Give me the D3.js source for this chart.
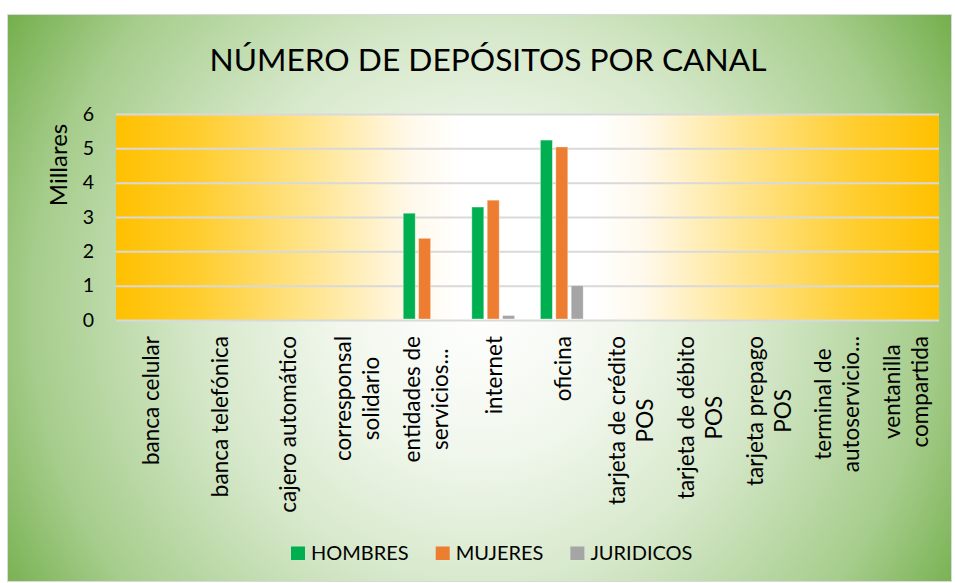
<!DOCTYPE html>
<html>
<head>
<meta charset="utf-8">
<script src="https://cdn.jsdelivr.net/npm/d3@7"></script>
<style>
    body { margin: 0; background: #ffffff; }
    svg text { font-family: Lato, "Noto Sans", sans-serif; fill: #000000; }
</style>
</head>
<body>
<div id="chart"></div>
<script>
// Chart data
const categories = [
    ['banca celular'],
    ['banca telefónica'],
    ['cajero automático'],
    ['corresponsal', 'solidario'],
    ['entidades de', 'servicios...'],
    ['internet'],
    ['oficina'],
    ['tarjeta de crédito', 'POS'],
    ['tarjeta de débito', 'POS'],
    ['tarjeta prepago', 'POS'],
    ['terminal de', 'autoservicio...'],
    ['ventanilla', 'compartida']
];
const seriesNames = ['HOMBRES', 'MUJERES', 'JURIDICOS'];
const hombres   = [0, 0, 0, 0, 3.11, 3.29, 5.24, 0, 0, 0, 0, 0];
const mujeres   = [0, 0, 0, 0, 2.38, 3.49, 5.04, 0, 0, 0, 0, 0];
const juridicos = [0, 0, 0, 0, 0,    0.13, 1.00, 0, 0, 0, 0, 0];
const yTicks = [0, 1, 2, 3, 4, 5, 6];

const seriesValues = [hombres, mujeres, juridicos];
const seriesColors = ['#00b050', '#ed7d31', '#a5a5a5'];

const WIDTH = 955, HEIGHT = 583;
const PLOT = { left: 116, right: 939, top: 114, bottom: 320 };

const svg = d3.select('#chart').append('svg')
    .attr('width', WIDTH)
    .attr('height', HEIGHT);

const defs = svg.append('defs');

// Outer green radial background
const bgGrad = defs.append('radialGradient')
    .attr('id', 'bgGrad')
    .attr('gradientUnits', 'userSpaceOnUse')
    .attr('cx', 480).attr('cy', 310).attr('r', 560);
[[0, '#ffffff'], [0.25, '#f1f7ed'], [0.5, '#d6e8ca'], [0.8, '#a6cd8c'], [1, '#72ae4a']]
    .forEach(s => bgGrad.append('stop').attr('offset', s[0]).attr('stop-color', s[1]));

// Plot area gold gradient
const plotGrad = defs.append('linearGradient')
    .attr('id', 'plotGrad')
    .attr('x1', 0).attr('x2', 1).attr('y1', 0).attr('y2', 0);
[[0, '#ffc000'], [0.1, '#ffcd2e'], [0.24, '#ffe590'], [0.36, '#fff9ec'], [0.42, '#ffffff'],
 [0.58, '#ffffff'], [0.64, '#fff9ec'], [0.76, '#ffe590'], [0.9, '#ffcd2e'], [1, '#ffc000']]
    .forEach(s => plotGrad.append('stop').attr('offset', s[0]).attr('stop-color', s[1]));

svg.append('rect')
    .attr('x', 7.5).attr('y', 14.5)
    .attr('width', 944).attr('height', 567)
    .attr('fill', 'url(#bgGrad)')
    .attr('stroke', '#d9d9d9')
    .attr('stroke-width', 1);

// Title
svg.append('text')
    .attr('x', 488)
    .attr('y', 71)
    .attr('text-anchor', 'middle')
    .style('font-size', '31.7px')
    .text('NÚMERO DE DEPÓSITOS POR CANAL');

// Scales
const x0 = d3.scaleBand()
    .domain(d3.range(categories.length))
    .range([PLOT.left, PLOT.right])
    .padding(0);

const barW = 12, barGap = 3.4;
const groupW = barW * 3 + barGap * 2;
const x1 = d3.scaleBand()
    .domain(seriesNames)
    .range([0, groupW])
    .paddingInner(barGap / (barW + barGap));

const y = d3.scaleLinear()
    .domain([0, 6])
    .range([PLOT.bottom, PLOT.top]);

// Plot area
svg.append('rect')
    .attr('x', PLOT.left).attr('y', PLOT.top)
    .attr('width', PLOT.right - PLOT.left)
    .attr('height', PLOT.bottom - PLOT.top)
    .attr('fill', 'url(#plotGrad)');

// Grid lines
svg.append('g')
    .attr('transform', `translate(${PLOT.left},0)`)
    .call(d3.axisLeft(y)
        .tickValues(yTicks)
        .tickSize(-(PLOT.right - PLOT.left))
        .tickFormat(''))
    .call(g => g.select('.domain').remove())
    .call(g => g.selectAll('line')
        .attr('stroke', '#d9d9d9')
        .attr('stroke-width', 2));

// Y-axis labels
svg.append('g')
    .attr('transform', `translate(${PLOT.left},0)`)
    .call(d3.axisLeft(y)
        .tickValues(yTicks)
        .tickSize(0)
        .tickPadding(22)
        .tickFormat(d3.format('d')))
    .call(g => g.select('.domain').remove())
    .call(g => g.selectAll('text')
        .style('font-size', '19.5px')
        .attr('fill', '#000'));

// Y-axis title
svg.append('text')
    .attr('transform', `translate(67,165) rotate(-90)`)
    .attr('text-anchor', 'middle')
    .style('font-size', '24px')
    .text('Millares');

// Bars
const groups = svg.append('g')
    .selectAll('g')
    .data(categories.map((c, i) => i))
    .enter().append('g')
    .attr('transform', i => `translate(${x0(i) + (x0.bandwidth() - groupW) / 2},0)`);

groups.selectAll('rect')
    .data(i => seriesNames.map((name, s) => ({ name, s, value: seriesValues[s][i] })))
    .enter().append('rect')
    .filter(d => d.value > 0)
    .attr('x', d => x1(d.name))
    .attr('width', x1.bandwidth())
    .attr('y', d => y(d.value))
    .attr('height', d => y(0) - y(d.value) - 1)
    .attr('fill', d => seriesColors[d.s])
    .attr('stroke', 'rgba(255,255,255,0.45)')
    .attr('stroke-width', 0.8);

// X-axis labels (rotated, multi-line centered)
const labelTop = 336;
const lineH = 28;
const xLabels = svg.append('g');
categories.forEach((lines, i) => {
    const cx = x0(i) + x0.bandwidth() / 2;
    const g = xLabels.append('g');
    const texts = lines.map((line, k) => {
        const bx = cx + (k - (lines.length - 1) / 2) * lineH;
        return g.append('text')
            .attr('transform', `translate(${bx + 9},0) rotate(-90)`)
            .style('font-size', '22.5px')
            .text(line);
    });
    const maxLen = d3.max(texts, t => t.node().getComputedTextLength());
    // centre each line within the longest line, anchored at the top
    texts.forEach(t => t.attr('text-anchor', 'middle').attr('x', -(labelTop + maxLen / 2)));
});

// Legend
const legendY = 560;
const legend = svg.append('g');
let lx = 291;
seriesNames.forEach((name, s) => {
    legend.append('rect')
        .attr('x', lx).attr('y', legendY - 13.5)
        .attr('width', 14).attr('height', 13.5)
        .attr('fill', seriesColors[s]);
    const t = legend.append('text')
        .attr('x', lx + 20)
        .attr('y', legendY)
        .style('font-size', '20px')
        .text(name);
    lx += 20 + t.node().getComputedTextLength() + 27;
});
</script>
</body>
</html>
